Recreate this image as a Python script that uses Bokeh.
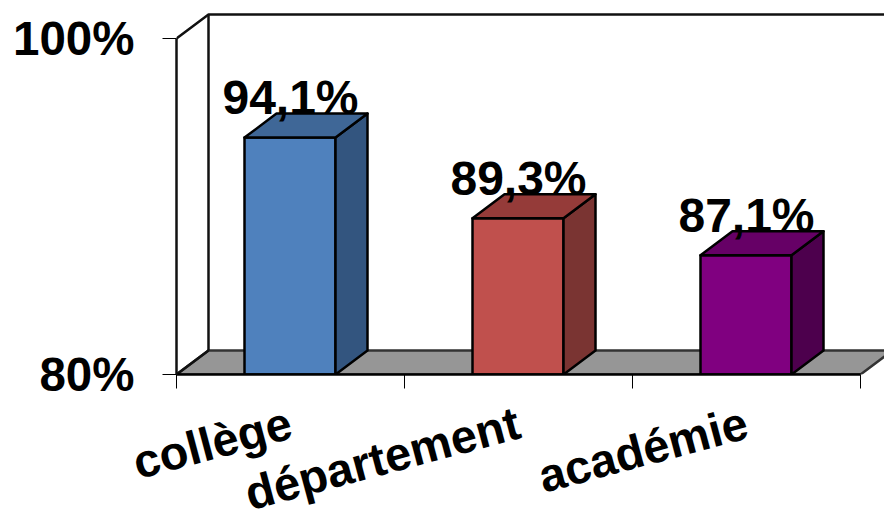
import math
from bokeh.plotting import figure
from bokeh.models import LinearAxis, FixedTicker, Range1d
from bokeh.core.properties import value
from bokeh.embed import file_html
from bokeh.resources import INLINE

categories = ["collège", "département", "académie"]
values = [94.1, 89.3, 87.1]
value_labels = ["94,1%", "89,3%", "87,1%"]
front_colors = ["#4F81BD", "#C0504D", "#800080"]
top_colors = ["#3F6797", "#953B39", "#660066"]
side_colors = ["#33557F", "#7A3432", "#4D004D"]
y_ticks = [80, 100]
y_tick_labels = ["80%", "100%"]

FONT = "Liberation Sans"
X_PX = 228.0          # pixels per category
Y_PX = 16.8           # pixels per percent
DX = 32 / X_PX        # depth offset, x data units
DY = 24 / Y_PX        # depth offset, y data units
BAR_W = 91 / X_PX
BAR_SHIFT = -0.5 / X_PX
LABEL_GAP = 40 / Y_PX
N = len(categories)

FRAME_W, FRAME_H = 708, 374
x_end = FRAME_W / X_PX
y_end = 80 + FRAME_H / Y_PX

p = figure(width=884, height=523, output_backend="svg", toolbar_location=None,
           x_range=Range1d(0, x_end), y_range=Range1d(80, y_end),
           frame_width=FRAME_W, frame_height=FRAME_H,
           min_border_left=176, min_border_right=0, min_border_top=0, min_border_bottom=149,
           x_axis_type=None, y_axis_type=None, background_fill_color="white",
           border_fill_color="white", outline_line_color=None)
p.grid.visible = False

# Floor and walls
p.patch([0, N, N + DX, DX], [80, 80, 80 + DY, 80 + DY],
        fill_color="#969696", line_color="#333333", line_width=2.5)
p.line([0, DX, x_end], [100, 100 + DY, 100 + DY], line_color="#111111", line_width=2.5)
p.line([DX, DX], [100 + DY, 80 + DY], line_color="#111111", line_width=2.5)
p.line([0, DX], [80, 80 + DY], line_color="#111111", line_width=2.5)

# Bars
for i, v in enumerate(values):
    x0 = i + 0.5 - BAR_W / 2 + BAR_SHIFT
    x1 = i + 0.5 + BAR_W / 2 + BAR_SHIFT
    p.patch([x0, x1, x1, x0], [80, 80, v, v], fill_color=front_colors[i],
            line_color="black", line_width=2.5, line_join="round")
    p.patch([x1, x1 + DX, x1 + DX, x1], [80, 80 + DY, v + DY, v], fill_color=side_colors[i],
            line_color="black", line_width=2.5, line_join="round")
    p.patch([x0, x1, x1 + DX, x0 + DX], [v, v, v + DY, v + DY], fill_color=top_colors[i],
            line_color="black", line_width=2.5, line_join="round")

p.text(x=[i + 0.5 for i in range(N)], y=[v + LABEL_GAP for v in values], text=value_labels,
       text_font=value(FONT), text_font_style="bold", text_font_size="48px",
       text_align="center", text_baseline="alphabetic", text_color="black")

# Value axis
ya = LinearAxis(ticker=FixedTicker(ticks=y_ticks), bounds=(80, 100))
ya.major_label_overrides = dict(zip(y_ticks, y_tick_labels))
ya.major_label_text_font = FONT
ya.major_label_text_font_style = "bold"
ya.major_label_text_font_size = "47.5px"
ya.major_label_text_color = "black"
ya.major_label_standoff = 28
ya.major_tick_in = 0
ya.major_tick_out = 14
ya.minor_tick_in = ya.minor_tick_out = 0
ya.major_tick_line_color = "black"
ya.axis_line_color = "#111111"
ya.axis_line_width = 2.5
p.add_layout(ya, "left")

# Category axis: tick marks
xa = LinearAxis(ticker=FixedTicker(ticks=list(range(N + 1))), bounds=(0, N))
xa.major_label_text_font_size = "0px"
xa.major_label_overrides = {i: "" for i in range(N + 1)}
xa.major_tick_in = 0
xa.major_tick_out = 14
xa.major_label_standoff = 0
xa.minor_tick_in = xa.minor_tick_out = 0
xa.major_tick_line_color = "black"
xa.axis_line_color = "black"
xa.axis_line_width = 2.5
p.add_layout(xa, "below")

# Category axis: labels
xl = LinearAxis(ticker=FixedTicker(ticks=[i + 0.5 for i in range(N)]))
xl.major_label_overrides = {i + 0.5: c for i, c in enumerate(categories)}
xl.major_label_orientation = math.radians(15)
xl.major_label_text_font = FONT
xl.major_label_text_font_style = "bold"
xl.major_label_text_font_size = "47px"
xl.major_label_text_color = "black"
xl.major_label_standoff = 33
xl.major_tick_in = xl.major_tick_out = 0
xl.minor_tick_in = xl.minor_tick_out = 0
xl.axis_line_color = None
xl.major_tick_line_color = None
p.add_layout(xl, "below")

open("out.html", "w").write(file_html(p, INLINE))
